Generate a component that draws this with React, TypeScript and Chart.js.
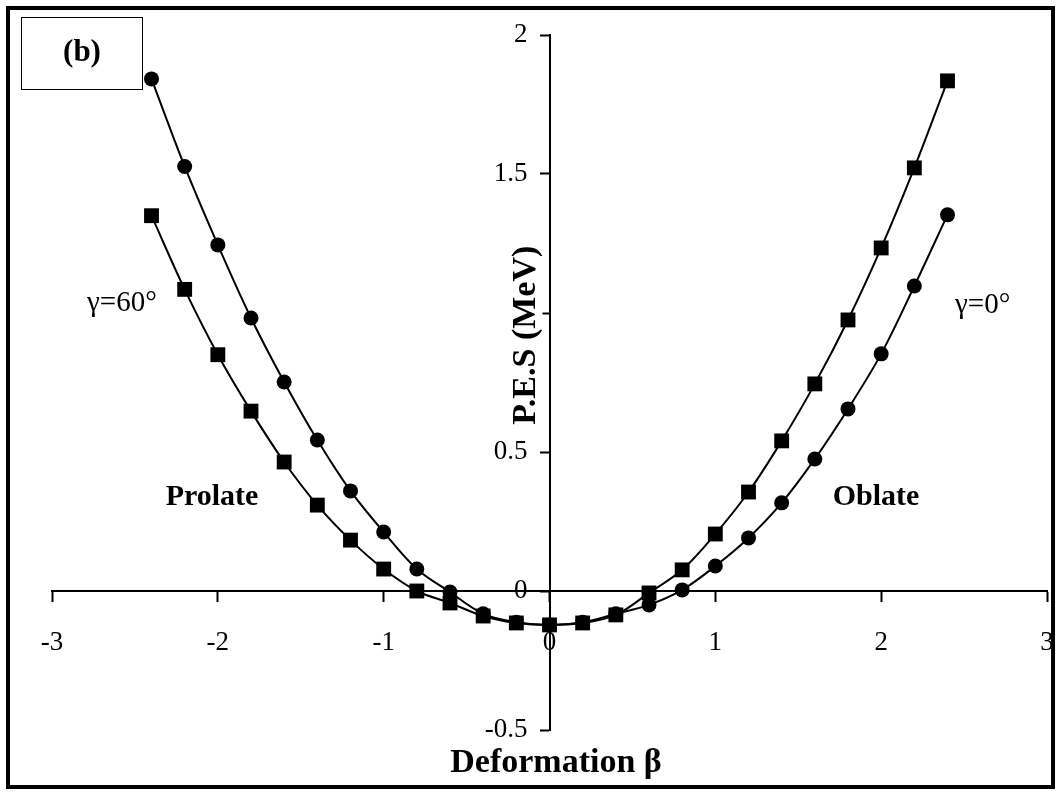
import React, { useEffect, useRef } from 'react';
import { Chart, registerables } from 'chart.js';

Chart.register(...registerables);

const beta = [-2.4, -2.2, -2.0, -1.8, -1.6, -1.4, -1.2, -1.0, -0.8, -0.6, -0.4, -0.2, 0, 0.2, 0.4, 0.6, 0.8, 1.0, 1.2, 1.4, 1.6, 1.8, 2.0, 2.2, 2.4];
const squareSeries = [1.35, 1.085, 0.85, 0.647, 0.464, 0.309, 0.183, 0.079, 0.0, -0.043, -0.09, -0.115, -0.122, -0.115, -0.086, -0.007, 0.076, 0.205, 0.356, 0.54, 0.745, 0.975, 1.234, 1.522, 1.835];
const circleSeries = [1.842, 1.527, 1.245, 0.982, 0.752, 0.543, 0.36, 0.212, 0.079, -0.004, -0.082, -0.112, -0.122, -0.112, -0.082, -0.05, 0.004, 0.09, 0.191, 0.317, 0.475, 0.655, 0.853, 1.097, 1.353];
const xTickValues = [-3, -2, -1, 0, 1, 2, 3];
const yTickValues = [-0.5, 0, 0.5, 1, 1.5, 2];
const xAxisTitle = 'Deformation β';
const yAxisTitle = 'P.E.S (MeV)';
const panelLabel = '(b)';
const leftGammaLabel = 'γ=60°';
const rightGammaLabel = 'γ=0°';
const leftShapeLabel = 'Prolate';
const rightShapeLabel = 'Oblate';

const FONT = '"Liberation Serif", "DejaVu Serif", serif';

const annotationPlugin = {
  id: 'textAnnotations',
  afterDraw(chart: any) {
    const { ctx, scales } = chart;
    const xs = scales.x;
    const ys = scales.y;
    const axisX = xs.getPixelForValue(0);
    ctx.save();

    // panel label box
    ctx.fillStyle = '#fff';
    ctx.fillRect(22, 18, 120, 71);
    ctx.strokeStyle = '#000';
    ctx.lineWidth = 1;
    ctx.strokeRect(21.5, 17.5, 121, 72);
    ctx.fillStyle = '#000';
    ctx.font = `bold 31px ${FONT}`;
    ctx.textAlign = 'center';
    ctx.textBaseline = 'middle';
    ctx.fillText(panelLabel, 82, 53);

    // x axis title
    ctx.font = `bold 34px ${FONT}`;
    ctx.textAlign = 'center';
    ctx.textBaseline = 'middle';
    ctx.fillText(xAxisTitle, 556, 763);

    // shape labels
    ctx.font = `bold 30px ${FONT}`;
    ctx.fillText(leftShapeLabel, 212, 497);
    ctx.fillText(rightShapeLabel, 876, 497);

    // gamma labels
    ctx.font = `29px ${FONT}`;
    ctx.textAlign = 'left';
    ctx.fillText(leftGammaLabel, 87, 303);
    ctx.fillText(rightGammaLabel, 955, 305);

    // y axis title (on a white text box, as in the original)
    ctx.save();
    ctx.translate(axisX - 23, ys.getPixelForValue(0.92));
    ctx.rotate(-Math.PI / 2);
    ctx.font = `bold 34px ${FONT}`;
    const w = ctx.measureText(yAxisTitle).width;
    ctx.fillStyle = '#fff';
    ctx.fillRect(-w / 2 - 2, -15, w + 4, 31);
    ctx.fillStyle = '#000';
    ctx.textAlign = 'center';
    ctx.textBaseline = 'middle';
    ctx.fillText(yAxisTitle, 0, 0);
    ctx.restore();

    ctx.restore();
  },
};

export default function App() {
  const canvasRef = useRef<HTMLCanvasElement | null>(null);

  useEffect(() => {
    if (!canvasRef.current) return;
    const chart = new Chart(canvasRef.current, {
      type: 'line',
      data: {
        datasets: [
          {
            label: 'squares',
            data: beta.map((b, i) => ({ x: b, y: squareSeries[i] })),
            borderColor: '#000',
            backgroundColor: '#000',
            borderWidth: 2,
            pointStyle: 'rect',
            pointRadius: 10.5,
            pointBorderWidth: 0,
            tension: 0.35,
          },
          {
            label: 'circles',
            data: beta.map((b, i) => ({ x: b, y: circleSeries[i] })),
            borderColor: '#000',
            backgroundColor: '#000',
            borderWidth: 2,
            pointStyle: 'circle',
            pointRadius: 7.5,
            pointBorderWidth: 0,
            tension: 0.35,
          },
        ],
      },
      options: {
        animation: false,
        responsive: false,
        devicePixelRatio: 1,
        layout: { padding: { left: 52, right: 12, top: 35, bottom: 64 } },
        plugins: {
          legend: { display: false },
          tooltip: { enabled: false },
        },
        scales: {
          x: {
            type: 'linear',
            position: { y: 0 },
            min: -3,
            max: 3,
            afterBuildTicks: (axis: any) => {
              axis.ticks = xTickValues.map((v) => ({ value: v }));
            },
            afterFit: (axis: any) => {
              axis.paddingLeft = 0;
              axis.paddingRight = 0;
            },
            ticks: {
              color: '#000',
              font: { family: FONT, size: 27 },
              padding: 26,
              maxRotation: 0,
              callback: (v: any) => String(v),
            },
            grid: { drawOnChartArea: false, drawTicks: true, tickLength: 10, color: '#000', tickWidth: 2 },
            border: { display: true, color: '#000', width: 2 },
          },
          y: {
            type: 'linear',
            position: 'center',
            min: -0.5,
            max: 2,
            afterBuildTicks: (axis: any) => {
              axis.ticks = yTickValues.map((v) => ({ value: v }));
            },
            afterFit: (axis: any) => {
              axis.paddingTop = 0;
              axis.paddingBottom = 0;
            },
            ticks: {
              color: '#000',
              font: { family: FONT, size: 27 },
              padding: 13,
              callback: (v: any) => String(v),
            },
            grid: { drawOnChartArea: false, drawTicks: true, tickLength: 9, color: '#000', tickWidth: 2 },
            border: { display: true, color: '#000', width: 2 },
          },
        },
      },
      plugins: [annotationPlugin],
    } as any);
    return () => chart.destroy();
  }, []);

  return (
    <div style={{ position: 'absolute', left: 0, top: 0, width: 1059, height: 794, background: '#fff' }}>
      <canvas ref={canvasRef} width={1059} height={794} style={{ position: 'absolute', left: 0, top: 0, width: 1059, height: 794 }} />
      <div
        style={{
          position: 'absolute',
          left: 6,
          top: 6,
          width: 1049,
          height: 783,
          boxSizing: 'border-box',
          border: '4px solid #000',
          pointerEvents: 'none',
        }}
      />
    </div>
  );
}
